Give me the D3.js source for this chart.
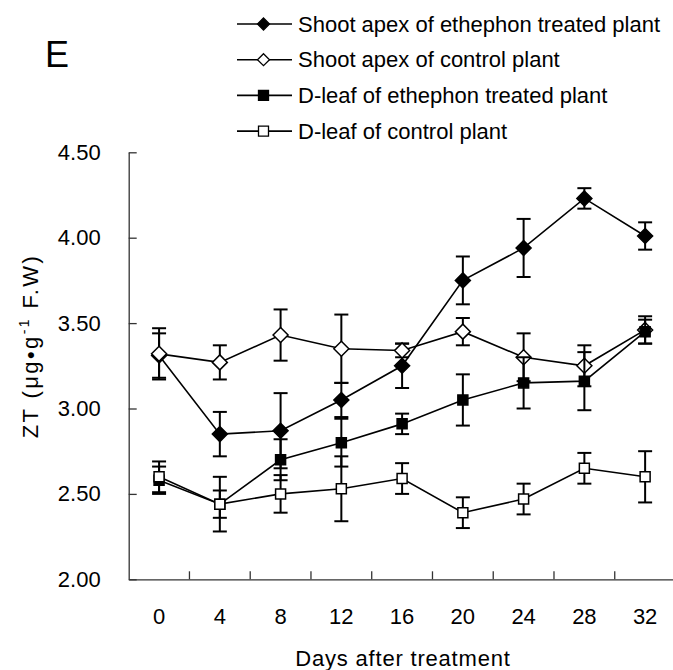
<!DOCTYPE html>
<html>
<head>
<meta charset="utf-8">
<script src="https://cdn.jsdelivr.net/npm/d3@7"></script>
<style>
  html, body { margin: 0; padding: 0; background: #fff; }
  svg { display: block; font-family: Arial, "Liberation Sans", sans-serif; }
</style>
</head>
<body>
<div id="chart"></div>
<script>
// Days after treatment (x categories)
const days = [0, 4, 8, 12, 16, 20, 24, 28, 32];
const yTicks = [2.0, 2.5, 3.0, 3.5, 4.0, 4.5];

// ZT content and error values
const apexEthephon = [3.31, 2.85, 2.87, 3.05, 3.25, 3.75, 3.94, 4.23, 4.01];
const apexEthephonErr = [0.13, 0.13, 0.22, 0.1, 0.13, 0.14, 0.17, 0.06, 0.08];
const apexControl = [3.32, 3.27, 3.43, 3.35, 3.34, 3.45, 3.3, 3.25, 3.46];
const apexControlErr = [0.15, 0.1, 0.15, 0.2, 0.04, 0.08, 0.14, 0.12, 0.08];
const leafEthephon = [2.58, 2.44, 2.7, 2.8, 2.91, 3.05, 3.15, 3.16, 3.45];
const leafEthephonErr = [0.08, 0.08, 0.12, 0.14, 0.06, 0.15, 0.15, 0.17, 0.07];
const leafControl = [2.6, 2.44, 2.5, 2.53, 2.59, 2.39, 2.47, 2.65, 2.6];
const leafControlErr = [0.09, 0.16, 0.11, 0.19, 0.09, 0.09, 0.09, 0.09, 0.15];

const seriesNames = [
  "Shoot apex of ethephon treated plant",
  "Shoot apex of control plant",
  "D-leaf of ethephon treated plant",
  "D-leaf of control plant",
];

const series = [
  { name: seriesNames[0], values: apexEthephon, err: apexEthephonErr, shape: "diamond", filled: true },
  { name: seriesNames[1], values: apexControl, err: apexControlErr, shape: "diamond", filled: false },
  { name: seriesNames[2], values: leafEthephon, err: leafEthephonErr, shape: "square", filled: true },
  { name: seriesNames[3], values: leafControl, err: leafControlErr, shape: "square", filled: false },
];

const width = 673;
const height = 670;
const plot = { left: 128.7, right: 675.5, top: 152.3, bottom: 579.3 };
const font = "Arial, 'Liberation Sans', sans-serif";

const svg = d3
  .select("#chart")
  .append("svg")
  .attr("width", width)
  .attr("height", height);

const x = d3.scaleBand().domain(days).range([plot.left, plot.right]).padding(0);
const y = d3.scaleLinear().domain([2, 4.5]).range([plot.bottom, plot.top]);
const cx = (d) => x(d) + x.bandwidth() / 2;

// marker path centred on 0,0
const markerPath = (shape, r) => {
  if (shape === "diamond") {
    return `M0,${-r}L${r},0L0,${r}L${-r},0Z`;
  }
  return `M${-r},${-r}H${r}V${r}H${-r}Z`;
};

// Y axis (ticks point inward)
const yAxis = svg
  .append("g")
  .attr("transform", `translate(${plot.left},0)`)
  .call(
    d3
      .axisLeft(y)
      .tickValues(yTicks)
      .tickFormat(d3.format(".2f"))
      .tickSizeInner(-8)
      .tickSizeOuter(0)
      .tickPadding(28)
  );
yAxis.select(".domain").attr("stroke", "#333").attr("stroke-width", 1.3);
yAxis.selectAll(".tick line").attr("stroke", "#333").attr("stroke-width", 1.3);
yAxis
  .selectAll(".tick text")
  .attr("fill", "#000")
  .attr("font-size", 22)
  .attr("font-family", font);

// X axis: labels at category centres, ticks between categories
const xAxis = svg
  .append("g")
  .attr("transform", `translate(0,${plot.bottom})`)
  .call(d3.axisBottom(x).tickSize(0).tickPadding(29));
xAxis.select(".domain").attr("stroke", "#333").attr("stroke-width", 1.3);
xAxis
  .selectAll(".tick text")
  .attr("fill", "#000")
  .attr("font-size", 22)
  .attr("font-family", font);

xAxis
  .selectAll(".sep")
  .data(days.slice(1))
  .join("line")
  .attr("class", "sep")
  .attr("x1", (d) => x(d))
  .attr("x2", (d) => x(d))
  .attr("y1", 0)
  .attr("y2", -8)
  .attr("stroke", "#333")
  .attr("stroke-width", 1.3);

// Axis titles
svg
  .append("text")
  .attr("x", 403)
  .attr("y", 666)
  .attr("text-anchor", "middle")
  .attr("font-size", 22)
  .attr("letter-spacing", 0.8)
  .attr("fill", "#000")
  .text("Days after treatment");

const yTitle = svg
  .append("text")
  .attr("transform", "translate(38,346) rotate(-90)")
  .attr("text-anchor", "middle")
  .attr("font-size", 22)
  .attr("letter-spacing", 2.4)
  .attr("fill", "#000");
yTitle.append("tspan").text("ZT (μg•g");
yTitle
  .append("tspan")
  .attr("font-size", 14)
  .attr("dy", -9)
  .text("-1");
yTitle.append("tspan").attr("dy", 9).text(" F.W)");

// Panel letter
svg
  .append("text")
  .attr("x", 45)
  .attr("y", 67)
  .attr("font-size", 36)
  .attr("fill", "#000")
  .text("E");

// Series: error bars, lines, markers
const line = d3
  .line()
  .x((d) => cx(d.day))
  .y((d) => y(d.v));

series.forEach((s) => {
  const pts = days.map((day, i) => ({ day, v: s.values[i], e: s.err[i] }));
  const g = svg.append("g");

  const bars = g.selectAll(".err").data(pts).join("g").attr("class", "err");
  bars
    .append("line")
    .attr("x1", (d) => cx(d.day))
    .attr("x2", (d) => cx(d.day))
    .attr("y1", (d) => y(d.v + d.e))
    .attr("y2", (d) => y(d.v - d.e))
    .attr("stroke", "#000")
    .attr("stroke-width", 2);
  [1, -1].forEach((sign) => {
    bars
      .append("line")
      .attr("x1", (d) => cx(d.day) - 7)
      .attr("x2", (d) => cx(d.day) + 7)
      .attr("y1", (d) => y(d.v + sign * d.e))
      .attr("y2", (d) => y(d.v + sign * d.e))
      .attr("stroke", "#000")
      .attr("stroke-width", 2);
  });

  g.append("path")
    .datum(pts)
    .attr("d", line)
    .attr("fill", "none")
    .attr("stroke", "#000")
    .attr("stroke-width", 1.6);

  g.selectAll(".mark")
    .data(pts)
    .join("path")
    .attr("class", "mark")
    .attr("transform", (d) => `translate(${cx(d.day)},${y(d.v)})`)
    .attr("d", markerPath(s.shape, s.shape === "diamond" ? 7.5 : 5))
    .attr("fill", s.filled ? "#000" : "#fff")
    .attr("stroke", "#000")
    .attr("stroke-width", 1.5);
});

// Legend
const legend = svg
  .append("g")
  .selectAll("g")
  .data(series)
  .join("g")
  .attr("transform", (d, i) => `translate(237,${24 + i * 35.7})`);

legend
  .append("line")
  .attr("x1", 0)
  .attr("x2", 55)
  .attr("stroke", "#000")
  .attr("stroke-width", 1.6);

legend
  .append("path")
  .attr("transform", "translate(26.5,0)")
  .attr("d", (d) => markerPath(d.shape, d.shape === "diamond" ? 6 : 5))
  .attr("fill", (d) => (d.filled ? "#000" : "#fff"))
  .attr("stroke", "#000")
  .attr("stroke-width", 1.3);

legend
  .append("text")
  .attr("x", 61)
  .attr("dy", "0.35em")
  .attr("font-size", 22)
  .attr("fill", "#000")
  .text((d) => d.name);
</script>
</body>
</html>
